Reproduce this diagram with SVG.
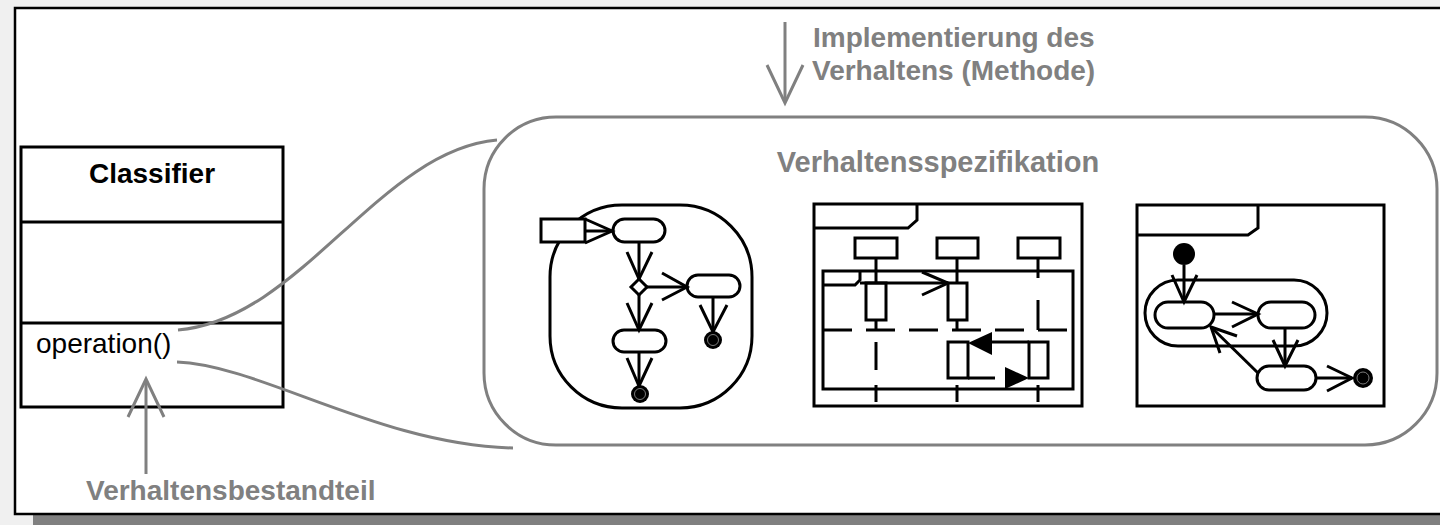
<svg xmlns="http://www.w3.org/2000/svg" width="1440" height="525" viewBox="0 0 1440 525">
  <style>
    .ink { fill: none; stroke: #000; stroke-width: 3; }
    .solid { fill: #000; stroke: none; }
    .blank { fill: #fff; }
    .ring { fill: none; stroke: #9a9a9a; stroke-width: 0.8; }
    .dash { stroke-dasharray: 29 14; }
    .gray { fill: none; stroke: #808080; stroke-width: 3; }
    .txt { font-family: "Liberation Sans", Arial, Helvetica, sans-serif; font-size: 28px; }
    .bold { font-weight: bold; }
    .note { font-family: "Liberation Sans", Arial, Helvetica, sans-serif; font-size: 28px; font-weight: bold; fill: #808080; }
  </style>

  <!-- page background, drop shadow and sheet -->
  <rect x="0" y="0" width="1440" height="525" fill="#f0f0f0"/>
  <rect x="33" y="26" width="1420" height="500" fill="#808080"/>
  <rect x="15" y="8" width="1440" height="506" fill="#fff" stroke="#000" stroke-width="2.5"/>

  <!-- class with three compartments -->
  <g id="classifier">
    <rect x="21" y="147" width="262" height="260" class="ink blank"/>
    <line x1="21" y1="222" x2="283" y2="222" class="ink"/>
    <line x1="21" y1="323" x2="283" y2="323" class="ink"/>
    <text x="152" y="183" text-anchor="middle" class="txt bold">Classifier</text>
    <text x="36" y="353" class="txt">operation()</text>
  </g>

  <!-- container for the behaviour specification -->
  <g id="behaviorSpec">
    <rect x="484" y="117" width="953" height="328" rx="72" class="gray"/>
    <text x="938" y="172" text-anchor="middle" class="note" style="font-size:29px">Verhaltensspezifikation</text>
  </g>

  <!-- activity diagram -->
  <g id="activity" class="ink">
    <rect x="550" y="205" width="202" height="203" rx="72"/>
    <rect x="541" y="219" width="44" height="23" class="blank"/>
    <line x1="585" y1="231" x2="612" y2="231"/>
    <polyline points="585,219 612,231 585,243"/>
    <rect x="613" y="219" width="52" height="23" rx="11.5"/>
    <line x1="639" y1="242" x2="639" y2="279"/>
    <polyline points="627,252 639,279 652,252"/>
    <polygon points="639,279 647,287 639,295 631,287" class="blank"/>
    <line x1="647" y1="287" x2="687" y2="287"/>
    <polyline points="662,273 687,287 662,300"/>
    <rect x="687" y="275" width="53" height="22" rx="11"/>
    <line x1="713" y1="297" x2="713" y2="332"/>
    <polyline points="700,305 713,332 727,305"/>
    <circle cx="713" cy="340" r="9" class="solid"/>
    <circle cx="713" cy="340" r="5.5" class="ring"/>
    <line x1="639" y1="295" x2="639" y2="330"/>
    <polyline points="627,303 639,330 652,303"/>
    <rect x="613" y="330" width="53" height="22" rx="11"/>
    <line x1="639" y1="352" x2="639" y2="386"/>
    <polyline points="627,358 639,386 652,358"/>
    <circle cx="640" cy="394" r="9" class="solid"/>
    <circle cx="640" cy="394" r="5.5" class="ring"/>
  </g>

  <!-- sequence diagram -->
  <g id="sequence" class="ink">
    <rect x="814" y="204" width="268" height="202"/>
    <polyline points="814,228 908,228 917,220 917,204"/>
    <rect x="855" y="238" width="42" height="20"/>
    <rect x="937" y="238" width="41" height="20"/>
    <rect x="1018" y="238" width="42" height="20"/>
    <rect x="823" y="271" width="250" height="118"/>
    <polyline points="823,285 855,285 860,280 860,271"/>
    <line x1="876" y1="258" x2="876" y2="283"/>
    <rect x="866" y="283" width="20" height="37"/>
    <line x1="876" y1="320" x2="876" y2="330"/>
    <line x1="957" y1="258" x2="957" y2="283"/>
    <rect x="948" y="283" width="19" height="37"/>
    <line x1="957" y1="320" x2="957" y2="330"/>
    <line x1="1038" y1="258" x2="1038" y2="278"/>
    <line x1="1038" y1="300" x2="1038" y2="330"/>
    <line x1="823" y1="330" x2="1067" y2="330" class="dash"/>
    <line x1="860" y1="283" x2="948" y2="283"/>
    <polyline points="922,272 948,283 922,295"/>
    <line x1="876" y1="342" x2="876" y2="370"/>
    <line x1="876" y1="385" x2="876" y2="402"/>
    <line x1="957" y1="385" x2="957" y2="402"/>
    <line x1="1038" y1="385" x2="1038" y2="402"/>
    <rect x="948" y="342" width="20" height="36"/>
    <rect x="1029" y="342" width="19" height="36"/>
    <line x1="992" y1="342" x2="1029" y2="342"/>
    <polygon points="968,343 992,332 992,355" class="solid"/>
    <line x1="968" y1="378" x2="995" y2="378"/>
    <polygon points="1005,367 1029,378 1005,389" class="solid"/>
  </g>

  <!-- state machine -->
  <g id="stateMachine" class="ink">
    <rect x="1137" y="205" width="247" height="201"/>
    <polyline points="1137,235 1248,235 1258,228 1258,205"/>
    <circle cx="1184" cy="254" r="11" class="solid"/>
    <rect x="1145" y="280" width="182" height="66" rx="33"/>
    <line x1="1184" y1="265" x2="1184" y2="302"/>
    <polyline points="1172,275 1184,302 1197,275"/>
    <rect x="1155" y="302" width="59" height="26" rx="13"/>
    <rect x="1258" y="302" width="57" height="26" rx="13"/>
    <line x1="1214" y1="314" x2="1258" y2="314"/>
    <polyline points="1232,302 1258,314 1232,327"/>
    <line x1="1285" y1="328" x2="1285" y2="366"/>
    <polyline points="1273,340 1285,366 1298,340"/>
    <rect x="1257" y="366" width="59" height="24" rx="12"/>
    <line x1="1316" y1="378" x2="1352" y2="378"/>
    <polyline points="1327,366 1352,378 1327,391"/>
    <circle cx="1363" cy="378" r="10" class="solid"/>
    <circle cx="1363" cy="378" r="6" class="ring"/>
    <line x1="1258" y1="373" x2="1211" y2="327"/>
    <polyline points="1237,336 1211,327 1220,353"/>
  </g>

  <!-- links from the operation to its specification, and the two notes -->
  <g id="connectors" class="gray">
    <path d="M178,330 C300,320 380,150 497,140"/>
    <path d="M177,362 C260,365 380,445 513,448"/>
    <line x1="785" y1="22" x2="785" y2="102"/>
    <polyline points="767,65 785,103 803,65"/>
    <line x1="146" y1="474" x2="146" y2="380"/>
    <polyline points="128,417 146,379 164,417"/>
  </g>

  <g id="labels">
    <text x="813" y="47" class="note">Implementierung des</text>
    <text x="812" y="80" class="note">Verhaltens (Methode)</text>
    <text x="86" y="500" class="note">Verhaltensbestandteil</text>
  </g>
</svg>
